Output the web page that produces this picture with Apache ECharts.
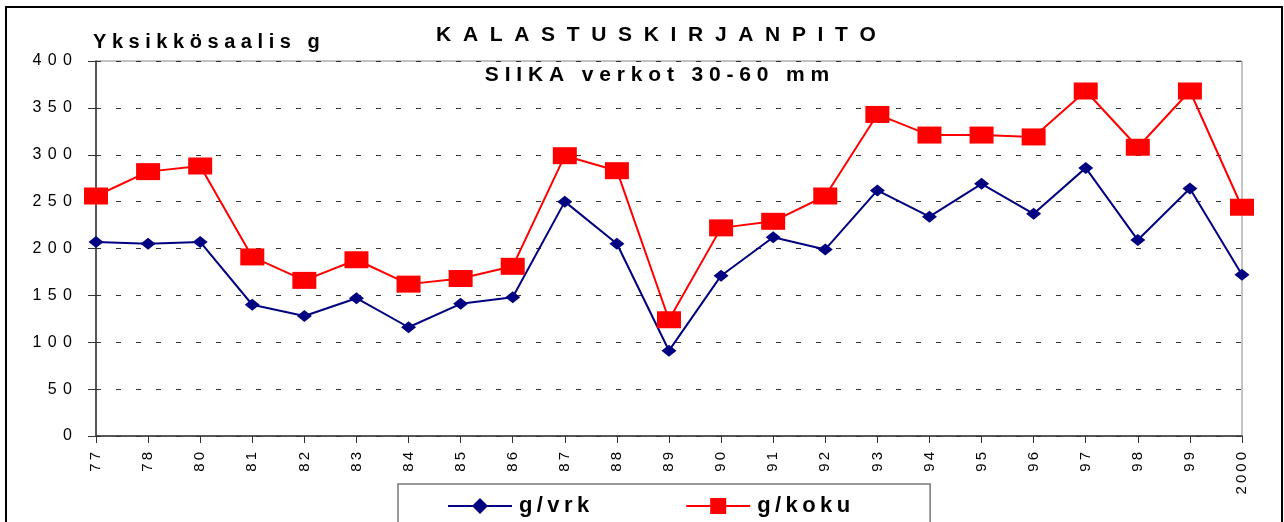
<!DOCTYPE html>
<html>
<head>
<meta charset="utf-8">
<script src="https://cdn.jsdelivr.net/npm/echarts@6/dist/echarts.min.js"></script>
<style>
html,body{margin:0;padding:0;background:#fff;}
#chart{width:1284px;height:522px;}
</style>
</head>
<body>
<div id="chart"></div>
<script>
const categories = ['77','78','80','81','82','83','84','85','86','87','88','89','90','91','92','93','94','95','96','97','98','99','2000'];
const gVrk  = [207,205,207,140,128,147,116,141,148,250,205,91,171,212,199,262,234,269,237,286,209,264,172];
const gKoku = [256,282,288,191,166,188,162,168,181,299,283,124,222,229,256,343,321,321,319,368,308,368,244];
const seriesNames = ['g/vrk','g/koku'];
const titleText = 'KALASTUSKIRJANPITO';
const subtitleText = 'SIIKA verkot 30-60 mm';
const yAxisTitle = 'Yksikkösaalis g';

const FF = '"Liberation Sans", Arial, Helvetica, sans-serif';
function spaced(s, gap){ return String(s).split('').join(gap); }

const chart = echarts.init(document.getElementById('chart'), null, {renderer:'canvas'});
chart.setOption({
  backgroundColor:'#ffffff',
  animation:false,
  graphic:[
    {type:'rect', shape:{x:6,y:7,width:1276,height:540}, style:{fill:'none', stroke:'#000', lineWidth:2}, z:100},
    {type:'text', x:656, y:35, style:{text:spaced(titleText,'  '), font:'bold 21px '+FF, fill:'#000', textAlign:'center', textVerticalAlign:'middle'}, z:100},
    {type:'text', x:657, y:75, style:{text:spaced(subtitleText,' '), font:'bold 21px '+FF, fill:'#000', textAlign:'center', textVerticalAlign:'middle'}, z:100},
    {type:'text', x:93, y:42, style:{text:spaced(yAxisTitle,' '), font:'bold 20px '+FF, fill:'#000', textAlign:'left', textVerticalAlign:'middle'}, z:100}
  ],
  grid:{left:96, right:42, top:61, bottom:86, show:true, borderColor:'#888', borderWidth:1, backgroundColor:'#fff'},
  legend:{
    data:seriesNames,
    left:398, top:484,
    orient:'horizontal',
    padding:[11,80,30,49],
    itemWidth:64, itemHeight:20, itemGap:96,
    borderColor:'#777', borderWidth:1.5,
    backgroundColor:'#fff',
    formatter:function(n){ return spaced(n,'\u2009'); },
    textStyle:{fontFamily:FF, fontWeight:'bold', fontSize:22, color:'#000', padding:[6,0,0,2]}
  },
  xAxis:{
    type:'category', data:categories, boundaryGap:false,
    axisLine:{show:true, lineStyle:{color:'#333', width:1.5}},
    axisTick:{show:true, alignWithLabel:true, length:7, lineStyle:{color:'#333'}},
    axisLabel:{rotate:90, margin:16, color:'#000', fontFamily:FF, fontSize:15, formatter:function(v){return spaced(v,'\u2009');}},
    splitLine:{show:false}
  },
  yAxis:{
    type:'value', min:0, max:400, interval:50,
    axisLine:{show:true, lineStyle:{color:'#333', width:1.5}},
    axisTick:{show:true, length:8, inside:false, lineStyle:{color:'#333'}},
    axisLabel:{margin:24, color:'#000', fontFamily:FF, fontSize:16, formatter:function(v){return spaced(v,'\u2009\u2009');}},
    splitLine:{show:true, lineStyle:{color:'#333', width:1, type:[5,15]}}
  },
  series:[
    {name:seriesNames[0], type:'line', data:gVrk, symbol:'diamond', symbolSize:[15,12],
     lineStyle:{color:'#000080', width:2}, itemStyle:{color:'#000080'}, z:3},
    {name:seriesNames[1], type:'line', data:gKoku, symbol:'rect', symbolSize:[24,17],
     lineStyle:{color:'#ff0000', width:2}, itemStyle:{color:'#ff0000'}, z:4}
  ]
});
</script>
</body>
</html>
